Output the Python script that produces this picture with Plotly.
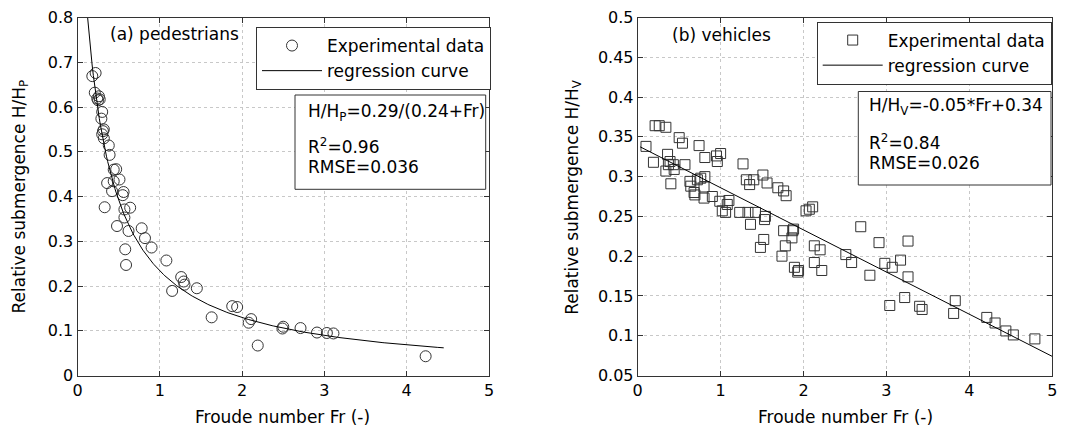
import numpy as np
import plotly.graph_objects as go

# (a) pedestrians: Froude number vs relative submergence H/Hp
ped_fr = [0.18, 0.22, 0.21, 0.24, 0.26, 0.25, 0.27, 0.29, 0.30, 0.31, 0.30, 0.32, 0.32,
          0.38, 0.39, 0.36, 0.33, 0.42, 0.44, 0.47, 0.44, 0.51, 0.48, 0.56, 0.55, 0.57,
          0.64, 0.57, 0.62, 0.58, 0.59, 0.78, 0.82, 0.90, 1.08, 1.15, 1.26, 1.29, 1.30,
          1.45, 1.63, 1.88, 1.94, 2.08, 2.11, 2.19, 2.49, 2.50, 2.71, 2.91, 3.03, 3.11, 4.23]
ped_h = [0.669, 0.676, 0.632, 0.619, 0.624, 0.615, 0.617, 0.574, 0.589, 0.546, 0.539, 0.530, 0.550,
         0.514, 0.493, 0.430, 0.376, 0.412, 0.460, 0.461, 0.434, 0.438, 0.334, 0.410, 0.403, 0.371,
         0.375, 0.353, 0.323, 0.282, 0.247, 0.329, 0.307, 0.286, 0.257, 0.189, 0.220, 0.210, 0.203,
         0.195, 0.130, 0.155, 0.153, 0.118, 0.126, 0.067, 0.105, 0.109, 0.106, 0.096, 0.095, 0.094, 0.043]

# (b) vehicles
veh_fr = [0.10, 0.19, 0.21, 0.26, 0.34, 0.36, 0.34, 0.37, 0.39, 0.40, 0.43, 0.44, 0.50, 0.54,
          0.57, 0.63, 0.64, 0.68, 0.69, 0.72, 0.74, 0.76, 0.80, 0.81, 0.81, 0.80, 0.90, 0.95,
          0.96, 1.00, 0.99, 1.02, 1.06, 1.08, 1.10, 1.23, 1.27, 1.31, 1.33, 1.35, 1.36, 1.40,
          1.42, 1.48, 1.51, 1.52, 1.54, 1.53, 1.56, 1.69, 1.74, 1.76, 1.76, 1.78, 1.79, 1.86,
          1.87, 1.88, 1.89, 1.93, 1.94, 2.03, 2.07, 2.11, 2.13, 2.13, 2.20, 2.22, 2.51, 2.58,
          2.69, 2.80, 2.91, 2.98, 3.04, 3.07, 3.17, 3.22, 3.26, 3.26, 3.40, 3.43, 3.81, 3.83,
          4.21, 4.31, 4.44, 4.53, 4.79]
veh_h = [0.338, 0.318, 0.364, 0.364, 0.362, 0.328, 0.307, 0.315, 0.319, 0.291, 0.315, 0.309, 0.349, 0.342,
         0.315, 0.294, 0.288, 0.280, 0.277, 0.296, 0.339, 0.298, 0.273, 0.324, 0.300, 0.287, 0.275, 0.326,
         0.319, 0.329, 0.269, 0.257, 0.255, 0.265, 0.270, 0.255, 0.316, 0.296, 0.255, 0.290, 0.240, 0.296,
         0.255, 0.211, 0.302, 0.221, 0.250, 0.246, 0.292, 0.286, 0.200, 0.282, 0.232, 0.213, 0.276, 0.223,
         0.232, 0.234, 0.186, 0.180, 0.182, 0.257, 0.259, 0.262, 0.213, 0.192, 0.208, 0.182, 0.202, 0.192,
         0.237, 0.176, 0.217, 0.191, 0.138, 0.186, 0.195, 0.148, 0.219, 0.174, 0.137, 0.133, 0.128, 0.144,
         0.123, 0.116, 0.106, 0.101, 0.096]

# regression coefficients (as drawn)
ped_a, ped_b = 0.29, 0.24          # H/Hp = a/(b+Fr)
ped_fr_range = [0.12, 4.45]
veh_slope, veh_icpt = -0.053, 0.339  # H/Hv = slope*Fr + icpt
veh_fr_range = [0.03, 5.0]

FONT = "DejaVu Sans"
DARK = "#333333"

# the page body has an 8px margin, so the figure sits at (8, 8) in the window
W, H, OFF = 1067, 425, 8
def fx(px):
    return (px - OFF) / W
def fy(py):
    return 1 - (py - OFF) / H

ped_curve_x = np.linspace(ped_fr_range[0], ped_fr_range[1], 300)
ped_curve_y = ped_a / (ped_b + ped_curve_x)
veh_line_x = np.array(veh_fr_range)
veh_line_y = veh_slope * veh_line_x + veh_icpt

fig = go.Figure()
fig.add_trace(go.Scatter(x=ped_fr, y=ped_h, mode="markers", name="Experimental data",
                         marker=dict(symbol="circle-open", size=11, color=DARK, line=dict(width=1, color=DARK)),
                         xaxis="x", yaxis="y", legend="legend"))
fig.add_trace(go.Scatter(x=ped_curve_x, y=ped_curve_y, mode="lines", name="regression curve",
                         line=dict(color="black", width=1), xaxis="x", yaxis="y", legend="legend"))
fig.add_trace(go.Scatter(x=veh_fr, y=veh_h, mode="markers", name="Experimental data",
                         marker=dict(symbol="square-open", size=10, color=DARK, line=dict(width=1, color=DARK)),
                         xaxis="x2", yaxis="y2", legend="legend2"))
fig.add_trace(go.Scatter(x=veh_line_x, y=veh_line_y, mode="lines", name="regression curve",
                         line=dict(color="black", width=1), xaxis="x2", yaxis="y2", legend="legend2"))

axis_style = dict(showline=True, linecolor=DARK, linewidth=1, mirror="ticks", ticks="inside",
                  ticklen=5, tickcolor=DARK, showgrid=True, gridcolor="#c8c8c8", griddash="dot",
                  gridwidth=1, zeroline=False, automargin=False, ticklabeloverflow="allow",
                  tickfont=dict(family=FONT, size=16, color="black"))
ydom = [fy(375.5), fy(17.5)]

leg_style = dict(xanchor="left", yanchor="top", bordercolor=DARK, borderwidth=1, bgcolor="white",
                 font=dict(family=FONT, size=17, color="black"), itemwidth=60, tracegroupgap=0)

fig.update_layout(
    width=W, height=H, margin=dict(l=0, r=0, t=0, b=0),
    plot_bgcolor="white", paper_bgcolor="white",
    font=dict(family=FONT, size=17, color="black"),
    xaxis=dict(domain=[fx(77.5), fx(489)], range=[0, 5], dtick=1, anchor="y", **axis_style),
    yaxis=dict(domain=ydom, range=[0, 0.8], dtick=0.1, anchor="x", **axis_style),
    xaxis2=dict(domain=[fx(637.7), fx(1052.3)], range=[0, 5], dtick=1, anchor="y2", **axis_style),
    yaxis2=dict(domain=ydom, range=[0.05, 0.5], dtick=0.05, anchor="x2", **axis_style),
    legend=dict(x=fx(256), y=fy(27), **leg_style),
    legend2=dict(x=fx(816.7), y=fy(21.5), **leg_style),
    showlegend=True,
)

# text boxes with fit statistics
for x0, x1, y0, y1 in [(295, 485.7, 95, 189.3), (858.3, 1051, 91.5, 185)]:
    fig.add_shape(type="rect", xref="paper", yref="paper", x0=fx(x0), x1=fx(x1), y0=fy(y1), y1=fy(y0),
                  line=dict(color=DARK, width=1), fillcolor="white", layer="above")

notes = [
    (306, 112, "H/H<sub>P</sub>=0.29/(0.24+Fr)"),
    (306, 146, "R<sup>2</sup>=0.96"),
    (306, 166.7, "RMSE=0.036"),
    (108.3, 34, "(a) pedestrians"),
    (866.7, 106.5, "H/H<sub>V</sub>=-0.05*Fr+0.34"),
    (866.7, 141.7, "R<sup>2</sup>=0.84"),
    (866.7, 163.3, "RMSE=0.026"),
    (670, 35.5, "(b) vehicles"),
]
for px, py, txt in notes:
    fig.add_annotation(xref="paper", yref="paper", x=fx(px), y=fy(py), text=txt, showarrow=False,
                       xanchor="left", yanchor="middle", font=dict(family=FONT, size=17, color="black"))

# axis titles
for xc in [282, 845]:
    fig.add_annotation(xref="paper", yref="paper", x=fx(xc), y=fy(416.7), text="Froude number Fr (-)",
                       showarrow=False, xanchor="center", yanchor="middle",
                       font=dict(family=FONT, size=17, color="black"))
for xc, sub in [(20, "P"), (573.3, "V")]:
    fig.add_annotation(xref="paper", yref="paper", x=fx(xc), y=sum(ydom) / 2,
                       text="Relative submergence H/H<sub>" + sub + "</sub>", textangle=-90,
                       showarrow=False, xanchor="center", yanchor="middle",
                       font=dict(family=FONT, size=17, color="black"))

fig.write_html("out.html")
